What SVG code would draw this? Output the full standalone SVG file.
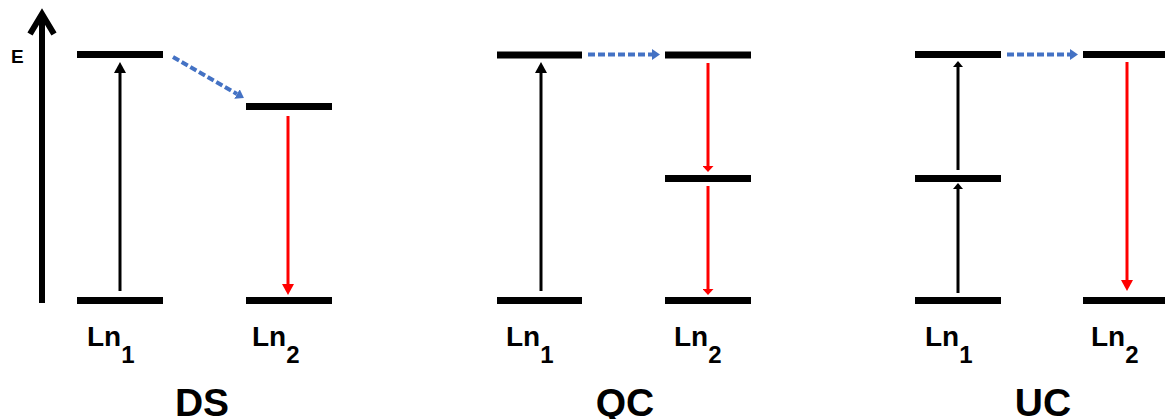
<svg xmlns="http://www.w3.org/2000/svg" width="1165" height="419" viewBox="0 0 1165 419">
<style>
.lvl{stroke:#000;stroke-width:7;fill:none}
.up{stroke:#000;stroke-width:3;fill:none}
.dn{stroke:#FF0000;stroke-width:3;fill:none}
.et{stroke:#4472C4;stroke-width:4;stroke-dasharray:7 3;fill:none}
.ln{font-family:"Liberation Sans",Arial,sans-serif;font-weight:bold;font-size:28px;fill:#000}
.sub{font-size:24px}
.ttl{font-family:"Liberation Sans",Arial,sans-serif;font-weight:bold;font-size:39px;fill:#000;text-anchor:middle}
</style>
<defs>
<marker id="bk" markerUnits="userSpaceOnUse" markerWidth="12" markerHeight="12" refX="0" refY="6" orient="auto"><path d="M0,0 L11,6 L0,12 z" fill="#000"/></marker>
<marker id="bks" markerUnits="userSpaceOnUse" markerWidth="7" markerHeight="10" refX="0" refY="5" orient="auto"><path d="M0,0 L6,5 L0,10 z" fill="#000"/></marker>
<marker id="rd" markerUnits="userSpaceOnUse" markerWidth="12" markerHeight="12" refX="0" refY="6" orient="auto"><path d="M0,0 L11,6 L0,12 z" fill="#FF0000"/></marker>
<marker id="rds" markerUnits="userSpaceOnUse" markerWidth="7" markerHeight="11" refX="0" refY="5.5" orient="auto"><path d="M0,0 L6,5.5 L0,11 z" fill="#FF0000"/></marker>
<marker id="bl" markerUnits="userSpaceOnUse" markerWidth="9" markerHeight="11" refX="0" refY="5.5" orient="auto"><path d="M0,0 L8,5.5 L0,11 z" fill="#4472C4"/></marker>
</defs>

<g id="axis">
<line x1="42" y1="303" x2="42" y2="16" stroke="#000" stroke-width="6"/>
<polyline points="30,34 42,14 54,34" fill="none" stroke="#000" stroke-width="6" stroke-linejoin="miter"/>
<text x="11" y="63" font-family="Liberation Sans,Arial,sans-serif" font-weight="bold" font-size="19">E</text>
</g>

<g id="ds">
<g id="ds-ln1-top"><line class="lvl" x1="77" y1="54.5" x2="163" y2="54.5"/></g>
<g id="ds-ln1-bottom"><line class="lvl" x1="77" y1="300.5" x2="163" y2="300.5"/></g>
<g id="ds-ln2-top"><line class="lvl" x1="246" y1="106.5" x2="332" y2="106.5"/></g>
<g id="ds-ln2-bottom"><line class="lvl" x1="246" y1="300.5" x2="332" y2="300.5"/></g>
<text class="ln" x="87" y="346">Ln<tspan class="sub" dy="17">1</tspan></text>
<text class="ln" x="252" y="346">Ln<tspan class="sub" dy="17">2</tspan></text>
<text class="ttl" x="202" y="416">DS</text>
</g>

<g id="qc">
<g id="qc-ln1-top"><line class="lvl" x1="497" y1="55" x2="582" y2="55"/></g>
<g id="qc-ln1-bottom"><line class="lvl" x1="497" y1="300.5" x2="582" y2="300.5"/></g>
<g id="qc-ln2-top"><line class="lvl" x1="665" y1="55" x2="751" y2="55"/></g>
<g id="qc-ln2-mid"><line class="lvl" x1="665" y1="178.5" x2="751" y2="178.5"/></g>
<g id="qc-ln2-bottom"><line class="lvl" x1="665" y1="300.5" x2="751" y2="300.5"/></g>
<text class="ln" x="506" y="346">Ln<tspan class="sub" dy="17">1</tspan></text>
<text class="ln" x="674" y="346">Ln<tspan class="sub" dy="17">2</tspan></text>
<text class="ttl" x="625" y="416">QC</text>
</g>

<g id="uc">
<g id="uc-ln1-top"><line class="lvl" x1="915" y1="54.5" x2="1001" y2="54.5"/></g>
<g id="uc-ln1-mid"><line class="lvl" x1="915" y1="178.5" x2="1001" y2="178.5"/></g>
<g id="uc-ln1-bottom"><line class="lvl" x1="915" y1="300.5" x2="1001" y2="300.5"/></g>
<g id="uc-ln2-top"><line class="lvl" x1="1083" y1="54.5" x2="1165" y2="54.5"/></g>
<g id="uc-ln2-bottom"><line class="lvl" x1="1083" y1="300.5" x2="1165" y2="300.5"/></g>
<text class="ln" x="925" y="346">Ln<tspan class="sub" dy="17">1</tspan></text>
<text class="ln" x="1091" y="346">Ln<tspan class="sub" dy="17">2</tspan></text>
<text class="ttl" x="1043" y="416">UC</text>
</g>

<g id="connectors">
<line class="up" x1="120" y1="291" x2="120" y2="73" marker-end="url(#bk)"/>
<line class="dn" x1="288" y1="116" x2="288" y2="284" marker-end="url(#rd)"/>
<line class="et" x1="173" y1="57" x2="237" y2="94" marker-end="url(#bl)"/>

<line class="up" x1="541" y1="291" x2="541" y2="73" marker-end="url(#bk)"/>
<line class="et" x1="588" y1="54.5" x2="652" y2="54.5" marker-end="url(#bl)"/>
<line class="dn" x1="708" y1="63" x2="708" y2="166" marker-end="url(#rds)"/>
<line class="dn" x1="708" y1="186" x2="708" y2="289" marker-end="url(#rds)"/>

<line class="up" x1="958" y1="170" x2="958" y2="67" marker-end="url(#bks)"/>
<line class="up" x1="958" y1="293" x2="958" y2="189" marker-end="url(#bks)"/>
<line class="et" x1="1007" y1="54.5" x2="1070" y2="54.5" marker-end="url(#bl)"/>
<line class="dn" x1="1127" y1="62" x2="1127" y2="280" marker-end="url(#rd)"/>
</g>
</svg>
